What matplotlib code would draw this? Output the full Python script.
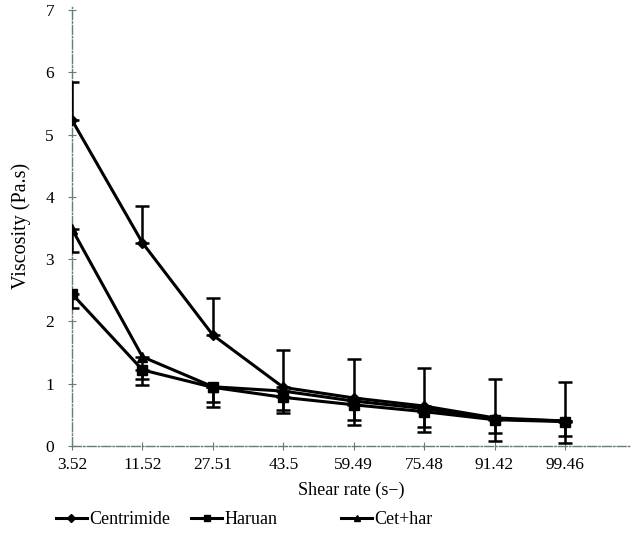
import matplotlib
matplotlib.use("Agg")
import matplotlib.pyplot as plt
from matplotlib.lines import Line2D
import numpy as np

plt.rcParams['font.family'] = ['Liberation Serif', 'DejaVu Serif']

shear_labels = ["3.52", "11.52", "27.51", "43.5", "59.49", "75.48", "91.42", "99.46"]
centrimide = [5.23, 3.26, 1.78, 0.94, 0.77, 0.64, 0.45, 0.40]
centrimide_err_up = [0.62, 0.60, 0.60, 0.60, 0.62, 0.61, 0.62, 0.62]
haruan = [2.44, 1.22, 0.94, 0.78, 0.66, 0.55, 0.42, 0.39]
haruan_err_down = [0.22, 0.24, 0.32, 0.25, 0.33, 0.33, 0.34, 0.34]
cethar = [3.48, 1.43, 0.95, 0.88, 0.72, 0.60, 0.43, 0.40]
cethar_err_down = [0.36, 0.35, 0.25, 0.30, 0.31, 0.30, 0.23, 0.24]

series_names = ["Centrimide", "Haruan", "Cet+har"]
markers = ['D', 's', '^']
marker_sizes = [5, 7, 7]

x = np.arange(len(shear_labels))

fig = plt.figure(figsize=(6.38, 5.34), dpi=100)
ax = fig.add_axes([0.113, 0.165, 0.874, 0.822])

ekw = dict(ecolor='black', elinewidth=1.8, capsize=5, capthick=1.8)
zeros = np.zeros(len(x))
ax.errorbar(x, centrimide, yerr=[zeros, centrimide_err_up], color='black',
            lw=2.2, marker=markers[0], ms=marker_sizes[0], **ekw)
ax.errorbar(x, haruan, yerr=[haruan_err_down, zeros], color='black',
            lw=2.2, marker=markers[1], ms=marker_sizes[1], **ekw)
ax.errorbar(x, cethar, yerr=[cethar_err_down, zeros], color='black',
            lw=2.2, marker=markers[2], ms=marker_sizes[2], **ekw)

ax.set_xlim(0, 7.92)
ax.set_ylim(0, 7.05)
ax.set_xticks(x)
ax.set_xticklabels(shear_labels)
ax.set_yticks(range(8))

for s in ['top', 'right']:
    ax.spines[s].set_visible(False)
for s in ['left', 'bottom']:
    ax.spines[s].set_color('#6a7a78')
    ax.spines[s].set_linestyle('-.')
    ax.spines[s].set_linewidth(1.0)
    ax.spines[s].set_zorder(0)

ax.tick_params(axis='both', direction='inout', length=6, color='#6a7a78', labelsize=12.5)
ax.tick_params(axis='y', pad=10)
ax.tick_params(axis='x', pad=5)

ax.set_xlabel("Shear rate (s\u2212)", fontsize=13, labelpad=6)
ax.set_ylabel("Viscosity (Pa.s)", fontsize=14.5, labelpad=10)

legend_x = [0.088, 0.300, 0.535]
for name, m, ms, lx in zip(series_names, markers, [4, 5, 5], legend_x):
    h = Line2D([0], [0], color='black', lw=2.2, marker=m, ms=ms)
    lg = fig.legend([h], [name], loc='center left', bbox_to_anchor=(lx, 0.027),
                    frameon=False, fontsize=13, handlelength=1.7, handletextpad=0.15,
                    borderpad=0, borderaxespad=0)
fig.savefig("out.png", dpi=100)
